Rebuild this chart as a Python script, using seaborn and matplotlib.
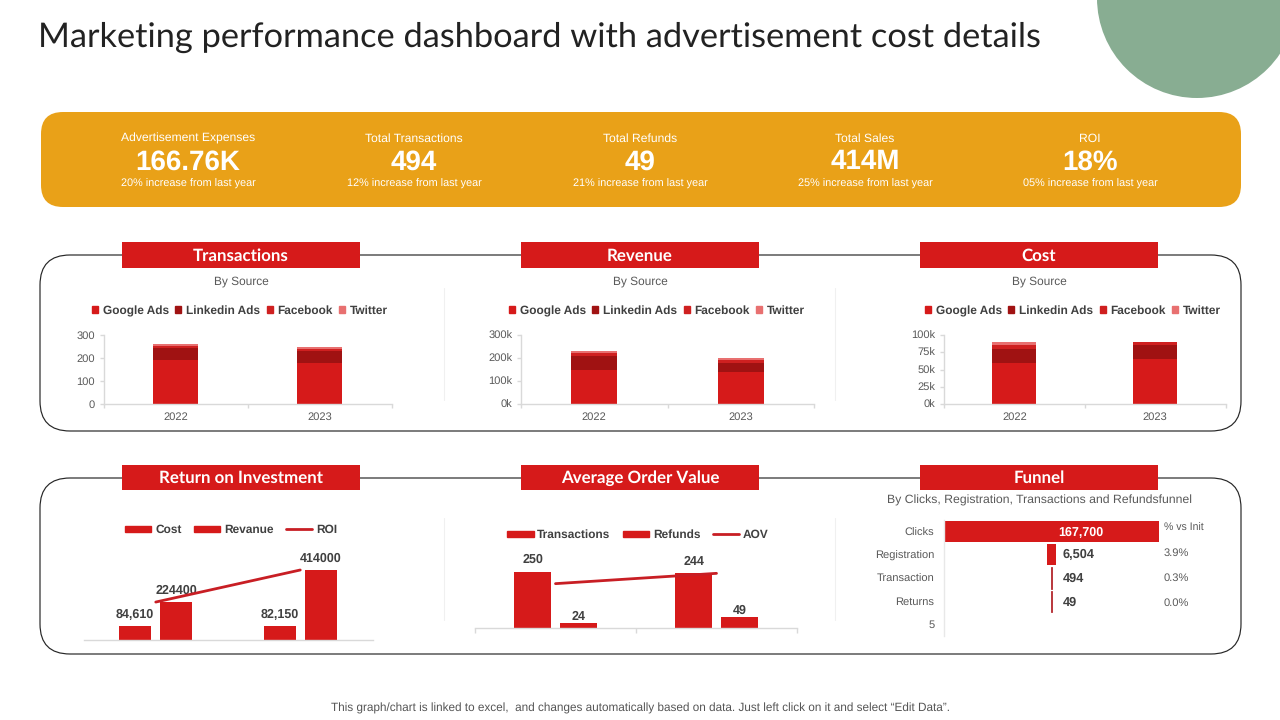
import numpy as np
import pandas as pd
import seaborn as sns
import matplotlib
matplotlib.use("Agg")
import matplotlib.pyplot as plt
from matplotlib.patches import FancyBboxPatch, Circle, Rectangle, Patch
from matplotlib.lines import Line2D

# ---------- data ----------
years = ["2022", "2023"]
sources = ["Google Ads", "Linkedin Ads", "Facebook", "Twitter"]

transactions_google = [191, 178]
transactions_linkedin = [52, 53]
transactions_facebook = [8, 9]
transactions_twitter = [11, 9]

revenue_google = [148, 139]
revenue_linkedin = [60, 39]
revenue_facebook = [14, 13]
revenue_twitter = [8, 8]

cost_google = [60, 65]
cost_linkedin = [20, 20]
cost_facebook = [5, 5]
cost_twitter = [5, 0]

roi_cost = [84610, 82150]
roi_revenue = [224400, 414000]
roi_line = [224400, 414000]
roi_cost_labels = ["84,610", "82,150"]
roi_revenue_labels = ["224400", "414000"]

aov_transactions = [250, 244]
aov_refunds = [24, 49]
aov_line = [198, 244]

funnel_stages = ["Clicks", "Registration", "Transaction", "Returns", "5"]
funnel_values = [167700, 6504, 494, 49, 0]
funnel_labels = ["167,700", "6,504", "494", "49"]
funnel_pct = ["% vs Init", "3.9%", "0.3%", "0.0%"]

kpi_titles = ["Advertisement Expenses", "Total Transactions", "Total Refunds", "Total Sales", "ROI"]
kpi_values = ["166.76K", "494", "49", "414M", "18%"]
kpi_notes = ["20% increase from last year", "12% increase from last year",
             "21% increase from last year", "25% increase from last year",
             "05% increase from last year"]

# ---------- style ----------
sns.set_theme(style="white")
plt.rcParams["font.family"] = ["Liberation Sans", "DejaVu Sans"]
plt.rcParams["text.hinting"] = "no_hinting"
RED = "#D61A1A"
DARK = "#A01212"
MID = "#CF2020"
PINK = "#E87070"
AMBER = "#E9A118"
GREEN = "#88AD92"
GRID = "#D9D9D9"
TXT = "#404040"
TICK = "#595959"
W, H = 1280, 720

fig = plt.figure(figsize=(12.8, 7.2), dpi=100, facecolor="white")


def axes_px(left, top, right, bottom, **kw):
    ax = fig.add_axes([left / W, 1 - bottom / H, (right - left) / W, (bottom - top) / H], **kw)
    ax.patch.set_alpha(0)
    return ax


# ---------- decoration layer ----------
bg = fig.add_axes([0, 0, 1, 1], zorder=0)
bg.set_xlim(0, W)
bg.set_ylim(H, 0)
bg.axis("off")
bg.add_patch(Circle((1197, -2), 100, color=GREEN, lw=0))
bg.text(38, 37.5, "Marketing performance dashboard with advertisement cost details",
        family="Lato", fontsize=24.75, color="#222222", va="center", ha="left")
bg.add_patch(FancyBboxPatch((41, 112), 1200, 95, boxstyle="round,pad=0,rounding_size=22",
                            fc=AMBER, ec="none"))
for cx, t, v, n in zip([188, 414, 640, 865, 1090], kpi_titles, kpi_values, kpi_notes):
    bg.text(cx, 138.5, t, color="white", fontsize=8.75, ha="center", va="center")
    bg.text(cx, 162, v, color="white", fontsize=20, fontweight="bold", ha="center", va="center")
    bg.text(cx, 184, n, color="white", fontsize=7.8, ha="center", va="center")

for top, bottom in [(255, 431), (478, 654)]:
    bg.add_patch(FancyBboxPatch((40, top), 1201, bottom - top,
                                boxstyle="round,pad=0,rounding_size=30",
                                fc="white", ec="#262626", lw=0.85))
for x in [443.5, 834.5]:
    bg.plot([x, x], [288, 400], color="#F0F0F0", lw=0.8)
    bg.plot([x, x], [518, 620], color="#F0F0F0", lw=0.8)

headers = [("Transactions", 122, 242, 26), ("Revenue", 521, 242, 26), ("Cost", 920, 242, 26),
           ("Return on Investment", 122, 465, 25), ("Average Order Value", 521, 465, 25),
           ("Funnel", 920, 465, 25)]
for label, x, y, h in headers:
    bg.add_patch(Rectangle((x, y), 238, h, fc=RED, ec="none", zorder=3))
    bg.text(x + 119, y + h / 2 + 5.5, label, color="white", family="Lato", fontweight="bold",
            fontsize=12.2, ha="center", va="baseline", zorder=4)
for cx in [241, 640, 1039]:
    bg.text(cx, 281.5, "By Source", color=TICK, fontsize=8.6, ha="center", va="center")
bg.text(1039, 500.5, "By Clicks, Registration, Transactions and Refundsfunnel",
        color=TICK, fontsize=8.85, ha="center", va="center")
bg.text(640, 708.5, "This graph/chart is linked to excel,  and changes automatically based on data. Just left click on it and select \u201cEdit Data\u201d.",
        color="#555555", fontsize=8.5, ha="center", va="center")


def px_anchor(x, y):
    return (x / W, 1 - y / H)


def light_axis(ax, left=False):
    sns.despine(ax=ax, left=not left, top=True, right=True)
    for s in ["bottom", "left"]:
        ax.spines[s].set_color(GRID)
        ax.spines[s].set_linewidth(1)


# ---------- stacked charts ----------
def stacked(box, layers, ylim, yticks, yticklabels, legend_xy):
    ax = axes_px(*box, zorder=2)
    colors = [RED, DARK, MID, PINK]
    bottom = np.zeros(len(years))
    for vals, c in zip(layers, colors):
        sns.barplot(x=years, y=vals, color=c, width=0.3125, bottom=bottom,
                    saturation=1, errorbar=None, ax=ax, linewidth=0)
        bottom = bottom + np.array(vals)
    ax.set_xlim(-0.5, 1.5)
    ax.set_ylim(0, ylim)
    ax.set_yticks(yticks, yticklabels)
    ax.set_xticks([0, 1], years)
    ax.set_xticks([-0.5, 0.5, 1.5], minor=True)
    ax.tick_params(axis="x", which="major", length=0, labelsize=8, labelcolor=TICK, pad=6)
    ax.tick_params(axis="x", which="minor", length=3, color=GRID, width=1, direction="out", bottom=True)
    ax.tick_params(axis="y", length=3, color=GRID, width=1, labelsize=8, labelcolor=TICK, pad=3,
                   direction="out", left=True)
    light_axis(ax, left=True)
    handles = [Patch(color=c, label=s) for c, s in zip(colors, sources)]
    fig.legend(handles=handles, ncol=4, loc="center", bbox_to_anchor=px_anchor(*legend_xy),
               frameon=False, labelcolor=TXT, handlelength=0.5, handleheight=0.5,
               handletextpad=0.4, columnspacing=0.55, borderpad=0,
               prop={"family": "Liberation Sans", "weight": "bold", "size": 8.6})
    return ax


stacked((103.5, 335, 391.5, 403.5),
        [transactions_google, transactions_linkedin, transactions_facebook, transactions_twitter],
        300, [0, 100, 200, 300], ["0", "100", "200", "300"], (240, 311))
stacked((521, 335, 814, 404),
        [revenue_google, revenue_linkedin, revenue_facebook, revenue_twitter],
        300, [0, 100, 200, 300], ["0k", "100k", "200k", "300k"], (657, 311))
stacked((944, 335, 1225.5, 404),
        [cost_google, cost_linkedin, cost_facebook, cost_twitter],
        100, [0, 25, 50, 75, 100], ["0k", "25k", "50k", "75k", "100k"], (1073, 311))


# ---------- combo charts ----------
def combo(box, series_a, series_b, names, line_vals, line_name, ylim, bar_width, gap,
          labels_a, labels_b, pad_a, pad_b, legend_xy, ticks):
    ax = axes_px(*box, zorder=2)
    df = pd.DataFrame({
        "year": years * 2,
        "value": list(series_a) + list(series_b),
        "series": [names[0]] * 2 + [names[1]] * 2,
    })
    sns.barplot(data=df, x="year", y="value", hue="series", palette=[RED, RED], saturation=1,
                width=bar_width, gap=gap, errorbar=None, ax=ax, linewidth=0, legend=False)
    ax.bar_label(ax.containers[0], labels=labels_a, padding=pad_a, fontsize=9, fontweight="bold", color=TXT)
    ax.bar_label(ax.containers[1], labels=labels_b, padding=pad_b, fontsize=9, fontweight="bold", color=TXT)
    sns.lineplot(x=np.arange(len(years)), y=line_vals, color="#C81E24", linewidth=2.0, ax=ax,
                 errorbar=None, legend=False, solid_capstyle="round", zorder=5)
    ax.set_xlim(-0.5, 1.5)
    ax.set_ylim(0, ylim)
    ax.set_yticks([])
    ax.set_xlabel("")
    ax.set_ylabel("")
    ax.set_xticks([0, 1], ["", ""])
    ax.tick_params(axis="x", which="major", length=0)
    if ticks:
        ax.set_xticks([-0.5, 0.5, 1.5], minor=True)
        ax.tick_params(axis="x", which="minor", length=3.6, color=GRID, width=1, bottom=True, direction="out")
    light_axis(ax)
    handles = [Patch(color=RED, label=names[0]), Patch(color=RED, label=names[1]),
               Line2D([], [], color="#C81E24", lw=2.0, label=line_name)]
    fig.legend(handles=handles, ncol=3, loc="center", bbox_to_anchor=px_anchor(*legend_xy),
               frameon=False, labelcolor=TXT, handlelength=2.2, handleheight=0.45,
               handletextpad=0.3, columnspacing=1.05, borderpad=0,
               prop={"family": "Liberation Sans", "weight": "bold", "size": 8.6})
    return ax


combo((83.5, 540, 372.5, 640), roi_cost, roi_revenue, ["Cost", "Revanue"], roi_line, "ROI",
      414000 * 100 / 70, 0.57, 0.22, roi_cost_labels, roi_revenue_labels, 3.7, 3.7, (231, 530), False)
combo((475, 540, 797, 628), aov_transactions, aov_refunds, ["Transactions", "Refunds"], aov_line, "AOV",
      88 / 0.224, 0.571, 0.195, [str(v) for v in aov_transactions], [str(v) for v in aov_refunds],
      4.3, 0, (638, 535), True)

# ---------- funnel ----------
ax = axes_px(944, 520, 1159, 636, zorder=2)
funnel_left = [-v / 2 for v in funnel_values]
sns.barplot(y=funnel_stages, x=funnel_values[:1] + [0] * 4, left=funnel_left, color=RED, saturation=1,
            width=0.91, orient="h", errorbar=None, ax=ax, linewidth=0)
sns.barplot(y=funnel_stages, x=[0] + funnel_values[1:2] + [0] * 3, left=funnel_left, color=RED, saturation=1,
            width=0.91, orient="h", errorbar=None, ax=ax, linewidth=0)
sns.barplot(y=funnel_stages, x=[0, 0] + funnel_values[2:], left=funnel_left, color="#B42A30", saturation=1,
            width=0.91, orient="h", errorbar=None, ax=ax, edgecolor="#B42A30", linewidth=[0, 0, 0.6, 0.6, 0])
ax.set_xlim(-funnel_values[0] / 2, funnel_values[0] / 2)
ax.set_ylim(4.5, -0.5)
ax.set_xticks([])
ax.set_xlabel("")
ax.set_ylabel("")
ax.tick_params(axis="y", length=0, labelsize=8, labelcolor=TICK, pad=7)
sns.despine(ax=ax, left=False, bottom=True, top=True, right=True)
ax.spines["left"].set_color("#E8E8E8")
ax.spines["left"].set_linewidth(1)
ax.annotate(funnel_labels[0], xy=(0, 0), xytext=(21, -0.5), textcoords="offset points", color="white",
            fontsize=9, fontweight="bold", ha="center", va="center")
for i, dy in zip(range(1, 4), [0, -0.6, -1.2]):
    ax.annotate(funnel_labels[i], xy=(0, i), xytext=(8.3, dy), textcoords="offset points", color=TXT,
                fontsize=9.2, fontweight="bold", ha="left", va="center")
for i, p in enumerate(funnel_pct):
    ax.annotate(p, xy=(1.0, i), xycoords=ax.get_yaxis_transform(),
                xytext=(3.6, [2.5, 1, -0.3, -1.2][i]),
                textcoords="offset points", color=TICK, fontsize=7.6 if i == 0 else 8, ha="left", va="center")

fig.savefig("out.png", dpi=100, facecolor="white")
